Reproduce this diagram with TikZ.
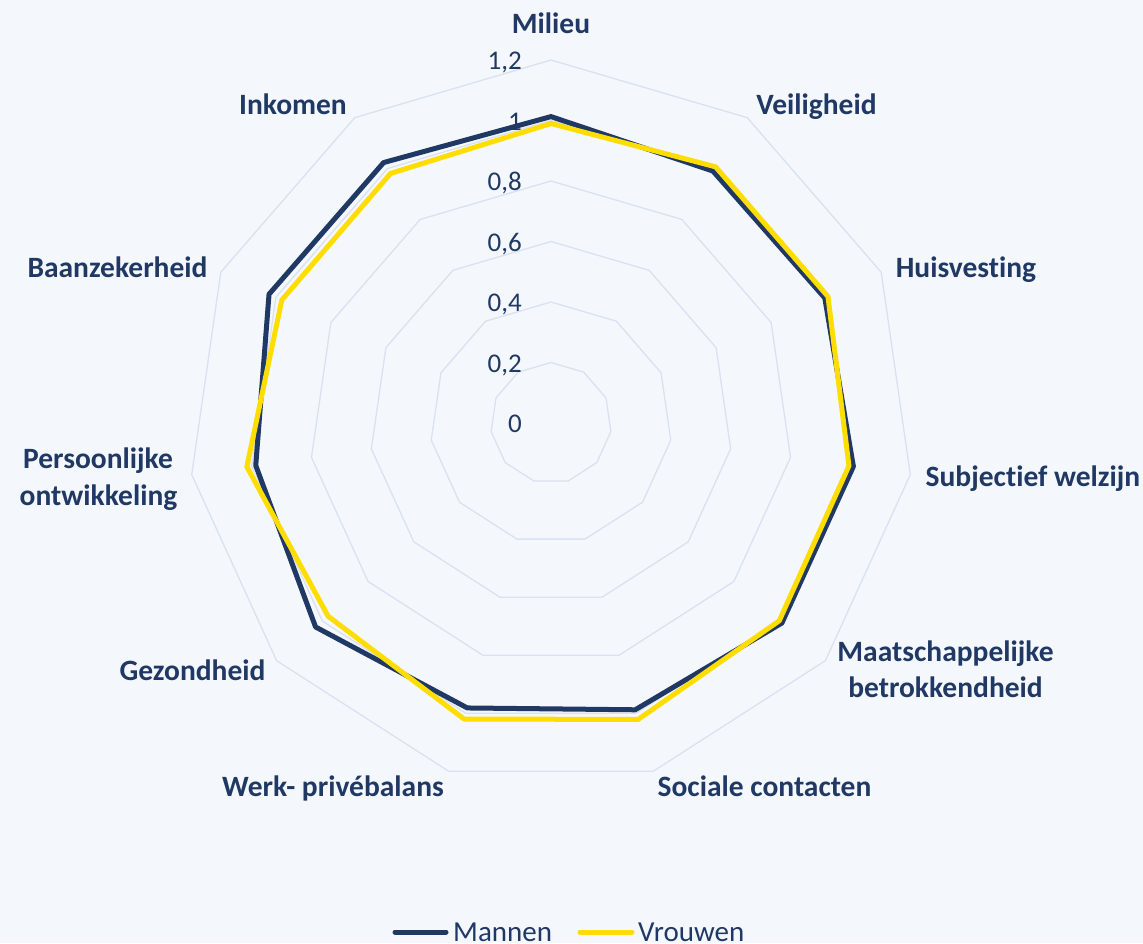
\documentclass[tikz,border=0pt]{standalone}
\usepackage{fontspec}
\setmainfont{Carlito}[Ligatures=NoCommon]
\definecolor{navy}{HTML}{203864}
\definecolor{gold}{HTML}{FFDD00}
\definecolor{gridc}{HTML}{D9E1F2}
\definecolor{bgc}{HTML}{F4F8FC}
\begin{document}
\begin{tikzpicture}[x=1pt,y=-1pt,
  axlabel/.style={font=\fontsize{29.5}{34}\selectfont\bfseries, text=navy, inner sep=0pt, anchor=base},
  ticklabel/.style={font=\fontsize{27}{32}\selectfont, text=navy, inner sep=0pt, anchor=base east},
  legtext/.style={font=\fontsize{29}{34}\selectfont, text=navy, inner sep=0pt, anchor=base west},
  gridline/.style={draw=gridc, line width=1.3pt, line join=round},
  mline/.style={draw=navy, line width=5pt, line join=round},
  vline/.style={draw=gold, line width=5pt, line join=round}]
\fill[bgc] (0,0) rectangle (1143,943);
\useasboundingbox (0,0) rectangle (1143,943);
\begin{scope}[shift={(551,423)}]
  \foreach \v in {0.2,0.4,0.6,0.8,1.0,1.2}{
    \pgfmathsetmacro\rr{\v*302.5}
    \draw[gridline] (-90:\rr) \foreach \k in {1,...,10}{ -- ({\k*360/11-90}:\rr) } -- cycle;
  }
  \draw[mline] (-90:306.4) -- (-57.273:299.5) -- (-24.545:301.0) -- (8.182:305.5) -- (40.909:305.5) -- (73.636:298.9) -- (106.364:297.0) -- (139.091:311.5) -- (171.818:298.3) -- (204.545:310.0) -- (237.273:309.6) -- cycle;
  \draw[vline] (-90:299.5) -- (-57.273:304.5) -- (-24.545:304.5) -- (8.182:301.0) -- (40.909:302.0) -- (73.636:309.0) -- (106.364:308.5) -- (139.091:295.0) -- (171.818:307.3) -- (204.545:296.0) -- (237.273:296.7) -- cycle;
\end{scope}
\node[ticklabel] (t0) at (522,432) {0};
\node[ticklabel] (t1) at (522,372) {0,2};
\node[ticklabel] (t2) at (522,311) {0,4};
\node[ticklabel] (t3) at (522,251) {0,6};
\node[ticklabel] (t4) at (522,190) {0,8};
\node[ticklabel] (t5) at (522,130) {1};
\node[ticklabel] (t6) at (522,69) {1,2};
\node[axlabel] (milieu) at (551,33) {Milieu};
\node[axlabel] (veilig) at (816.5,114) {Veiligheid};
\node[axlabel] (huis) at (966,277) {Huisvesting};
\node[axlabel] (subj) at (1033,486.7) {Subjectief welzijn};
\node[axlabel] (maat1) at (945.5,661.7) {Maatschappelijke};
\node[axlabel] (maat2) at (945.5,697.7) {betrokkendheid};
\node[axlabel] (soc) at (764.5,796) {Sociale contacten};
\node[axlabel] (werk) at (333,796) {Werk- privébalans};
\node[axlabel] (gez) at (192.5,680) {Gezondheid};
\node[axlabel] (pers1) at (98,468.3) {Persoonlijke};
\node[axlabel] (pers2) at (98.5,505) {ontwikkeling};
\node[axlabel] (baan) at (117.5,277) {Baanzekerheid};
\node[axlabel] (ink) at (293,114.3) {Inkomen};
\coordinate (m1) at (395,932);
\coordinate (m2) at (446,932);
\draw[draw=navy, line width=5pt, line cap=round] (m1) -- (m2);
\node[legtext] (mannen) at (453,941) {Mannen};
\coordinate (v1) at (580,932);
\coordinate (v2) at (632,932);
\draw[draw=gold, line width=5pt, line cap=round] (v1) -- (v2);
\node[legtext] (vrouwen) at (638,941) {Vrouwen};
\end{tikzpicture}
\end{document}
